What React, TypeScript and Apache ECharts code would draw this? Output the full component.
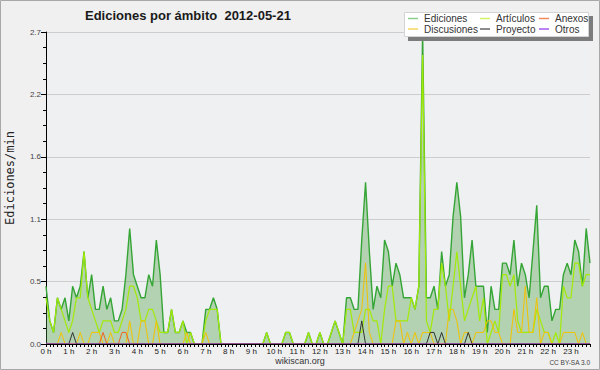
import React, { useEffect, useRef } from "react";
import * as echarts from "echarts";

const hourLabels = [
  "0 h", "1 h", "2 h", "3 h", "4 h", "5 h", "6 h", "7 h", "8 h", "9 h", "10 h", "11 h",
  "12 h", "13 h", "14 h", "15 h", "16 h", "17 h", "18 h", "19 h", "20 h", "21 h", "22 h", "23 h",
];

// one value per 10 minutes, two hours per row
const ediciones = [
  0.5, 0.2, 0.1, 0.4, 0.3, 0.4, 0.2, 0.5, 0.4, 0.5, 0.8, 0.4,
  0.6, 0.3, 0.3, 0.5, 0.3, 0.4, 0.2, 0.2, 0.3, 0.6, 1.0, 0.6,
  0.5, 0.4, 0.4, 0.6, 0.5, 0.9, 0.6, 0.1, 0.1, 0.3, 0.1, 0.1,
  0.2, 0.1, 0.1, 0, 0, 0, 0.3, 0.3, 0.4, 0.3, 0, 0,
  0, 0, 0, 0, 0, 0, 0, 0, 0, 0, 0.1, 0,
  0, 0, 0, 0.1, 0.1, 0, 0, 0, 0, 0.1, 0, 0,
  0.1, 0, 0, 0.1, 0.2, 0.1, 0, 0.4, 0.4, 0.3, 0.3, 0.9,
  1.4, 0.8, 0.3, 0.5, 0.4, 0.9, 0.8, 0.5, 0.7, 0.6, 0.4, 0.4,
  0.4, 0.3, 0.5, 2.7, 0.4, 0.4, 0.5, 0.3, 0.8, 0.5, 0.6, 1.1,
  1.4, 1.1, 0.4, 0.6, 0.9, 0.5, 0.5, 0.5, 0.1, 0.5, 0.3, 0.3,
  0.7, 0.7, 0.6, 0.9, 0.5, 0.7, 0.6, 0.4, 0.8, 1.2, 0.4, 0.5,
  0.5, 0.2, 0.3, 0.3, 0.6, 0.7, 0.6, 0.9, 0.8, 0.5, 1.0, 0.7,
];

const articulos = [
  0.4, 0.2, 0.1, 0.4, 0.3, 0.2, 0.1, 0.2, 0.4, 0.4, 0.8, 0.4,
  0.3, 0.2, 0.1, 0.2, 0.2, 0.2, 0.1, 0.1, 0.2, 0.3, 0.5, 0.5,
  0.4, 0.2, 0.2, 0.3, 0.3, 0.2, 0.1, 0.1, 0.1, 0.3, 0.1, 0.1,
  0.2, 0, 0.1, 0, 0, 0, 0.2, 0.3, 0.3, 0.3, 0, 0,
  0, 0, 0, 0, 0, 0, 0, 0, 0, 0, 0.1, 0,
  0, 0, 0, 0.1, 0.1, 0, 0, 0, 0, 0.1, 0, 0,
  0.1, 0, 0, 0.1, 0.2, 0.1, 0, 0.3, 0.3, 0.1, 0.1, 0.1,
  0.3, 0.3, 0.2, 0.2, 0, 0.3, 0.5, 0.5, 0.2, 0.2, 0.2, 0.2,
  0.4, 0.3, 0.5, 2.5, 0.2, 0.1, 0.3, 0.3, 0.7, 0.5, 0.2, 0.5,
  0.8, 0.5, 0.2, 0.3, 0.4, 0.5, 0.2, 0.4, 0, 0.1, 0.2, 0.1,
  0.6, 0.6, 0.5, 0.6, 0.2, 0.1, 0.1, 0.1, 0.1, 0.3, 0.2, 0.1,
  0.1, 0, 0.1, 0, 0.5, 0.4, 0.4, 0.7, 0.7, 0.5, 0.6, 0.6,
];

const discusiones = [
  0, 0, 0, 0, 0.1, 0, 0, 0, 0, 0.1, 0, 0,
  0.1, 0.1, 0.1, 0, 0, 0.1, 0, 0, 0, 0, 0.2, 0,
  0, 0.2, 0.2, 0, 0, 0.2, 0, 0, 0, 0, 0, 0,
  0, 0.1, 0, 0, 0, 0, 0.1, 0, 0, 0, 0, 0,
  0, 0, 0, 0, 0, 0, 0, 0, 0, 0, 0, 0,
  0, 0, 0, 0, 0, 0, 0, 0, 0, 0, 0, 0,
  0, 0, 0, 0, 0, 0, 0, 0, 0, 0.1, 0.2, 0.3,
  0.7, 0.1, 0, 0, 0, 0, 0, 0, 0.2, 0.2, 0, 0.1,
  0, 0.1, 0, 0.1, 0.1, 0.1, 0, 0, 0, 0, 0.3, 0.3,
  0.2, 0, 0.1, 0.1, 0, 0.1, 0.1, 0.1, 0.2, 0.2, 0.1, 0.1,
  0, 0, 0, 0.3, 0.1, 0.1, 0.5, 0.1, 0.1, 0.4, 0, 0.1,
  0.1, 0, 0, 0, 0.1, 0.1, 0.1, 0.1, 0, 0.1, 0, 0,
];

const anexos = [
  0, 0, 0, 0, 0, 0, 0, 0, 0, 0, 0, 0,
  0, 0, 0, 0.1, 0, 0, 0, 0, 0.1, 0.1, 0, 0,
  0, 0, 0, 0, 0, 0, 0, 0, 0, 0, 0, 0,
  0, 0, 0, 0, 0, 0, 0, 0, 0, 0, 0, 0,
  0, 0, 0, 0, 0, 0, 0, 0, 0, 0, 0, 0,
  0, 0, 0, 0, 0, 0, 0, 0, 0, 0, 0, 0,
  0, 0, 0, 0, 0, 0, 0, 0, 0, 0, 0, 0,
  0, 0, 0, 0, 0, 0, 0, 0, 0, 0, 0, 0,
  0, 0, 0, 0, 0, 0, 0, 0, 0, 0, 0, 0,
  0, 0, 0, 0, 0, 0, 0, 0, 0, 0, 0, 0,
  0, 0, 0, 0, 0, 0, 0, 0, 0, 0, 0, 0,
  0, 0, 0, 0, 0, 0, 0, 0, 0, 0, 0, 0,
];

const proyecto = [
  0, 0, 0, 0, 0, 0, 0, 0.1, 0, 0, 0, 0,
  0, 0, 0, 0, 0, 0, 0, 0, 0, 0, 0, 0,
  0, 0, 0, 0, 0, 0, 0, 0, 0, 0, 0, 0,
  0, 0, 0, 0, 0, 0, 0, 0, 0, 0, 0, 0,
  0, 0, 0, 0, 0, 0, 0, 0, 0, 0, 0, 0,
  0, 0, 0, 0, 0, 0, 0, 0, 0, 0, 0, 0,
  0, 0, 0, 0, 0, 0, 0, 0, 0, 0, 0, 0.2,
  0, 0, 0, 0, 0, 0, 0, 0, 0, 0, 0, 0,
  0, 0, 0, 0, 0, 0.1, 0.1, 0, 0.1, 0, 0, 0,
  0, 0, 0, 0.1, 0, 0, 0, 0, 0, 0, 0, 0,
  0, 0, 0, 0, 0, 0, 0, 0, 0, 0, 0, 0,
  0, 0, 0, 0, 0, 0, 0, 0, 0, 0, 0, 0,
];

const otros = [
  0, 0, 0, 0, 0, 0, 0, 0, 0, 0, 0, 0,
  0, 0, 0, 0, 0, 0, 0, 0, 0, 0, 0, 0,
  0, 0, 0, 0, 0, 0, 0, 0, 0, 0, 0, 0,
  0, 0, 0, 0, 0, 0, 0, 0, 0, 0, 0, 0,
  0, 0, 0, 0, 0, 0, 0, 0, 0, 0, 0, 0,
  0, 0, 0, 0, 0, 0, 0, 0, 0, 0, 0, 0,
  0, 0, 0, 0, 0, 0, 0, 0, 0, 0, 0, 0,
  0, 0, 0, 0, 0, 0, 0, 0, 0, 0, 0, 0,
  0, 0, 0, 0, 0, 0, 0, 0, 0, 0, 0, 0,
  0, 0, 0, 0, 0, 0, 0, 0, 0, 0, 0, 0,
  0, 0, 0, 0, 0, 0, 0, 0, 0, 0, 0, 0,
  0, 0, 0, 0, 0, 0, 0, 0, 0, 0, 0, 0,
];

const FONT = "'Liberation Sans', Arial, sans-serif";

export default function App() {
  const ref = useRef<HTMLDivElement>(null);

  useEffect(() => {
    const chart = echarts.init(ref.current as HTMLDivElement, null, { renderer: "svg" });

    const categories: string[] = [];
    hourLabels.forEach((h) => {
      for (let m = 0; m < 6; m++) categories.push(h + " " + m + "0");
    });

    const colLeft = [408, 480, 539];
    const rowTop = [13.5, 24];
    const legendDefs = [
      { name: "Ediciones", color: "#8ccf8c", c: 0, r: 0 },
      { name: "Artículos", color: "#d2f26a", c: 1, r: 0 },
      { name: "Anexos", color: "#f08a5c", c: 2, r: 0 },
      { name: "Discusiones", color: "#f5d55c", c: 0, r: 1 },
      { name: "Proyecto", color: "#666666", c: 1, r: 1 },
      { name: "Otros", color: "#a458f0", c: 2, r: 1 },
    ];
    const legends = legendDefs.map((d) => ({
      data: [{ name: d.name, itemStyle: { color: d.color } }],
      left: colLeft[d.c],
      top: rowTop[d.r],
      orient: "horizontal",
      padding: 0,
      itemWidth: 10,
      itemHeight: 1.5,
      icon: "rect",
      itemGap: 0,
      selectedMode: false,
      z: 110,
      textStyle: { fontFamily: FONT, fontSize: 10, color: "#333", padding: [0, 0, 0, 1] },
    }));

    const line = (name: string, data: number[], color: string, width: number) => ({
      type: "line",
      name,
      data,
      symbol: "none",
      showSymbol: false,
      lineStyle: { color, width },
      itemStyle: { color },
    });

    chart.setOption({
      animation: false,
      backgroundColor: "#f0f0f0",
      title: {
        text: "Ediciones por ámbito  2012-05-21",
        left: 85,
        top: 9,
        padding: 0,
        textStyle: { fontFamily: FONT, fontSize: 13, fontWeight: "bold", color: "#1a1a1a" },
      },
      legend: legends,
      grid: {
        left: 46,
        right: 10,
        top: 32,
        bottom: 26,
        show: true,
        backgroundColor: "#eef0f2",
        borderWidth: 0,
      },
      xAxis: {
        type: "category",
        data: categories,
        boundaryGap: false,
        z: 10,
        axisLine: { show: true, lineStyle: { color: "#000", width: 1 } },
        axisTick: { show: true, interval: 0, length: 3, lineStyle: { color: "#000", width: 1 } },
        axisLabel: {
          interval: 5,
          formatter: (_v: string, i: number) => hourLabels[Math.floor(i / 6)],
          fontFamily: FONT,
          fontSize: 8,
          color: "#222",
          margin: 3,
        },
        splitLine: { show: false },
      },
      yAxis: {
        type: "value",
        min: 0,
        max: 2.7,
        interval: 0.54,
        axisLine: { show: true, lineStyle: { color: "#000", width: 1 } },
        axisTick: { show: true, length: 5, lineStyle: { color: "#000" } },
        minorTick: { show: true, splitNumber: 4, length: 3, lineStyle: { color: "#000" } },
        splitLine: { show: true, lineStyle: { color: "#cdcdcd", width: 1 } },
        axisLabel: {
          formatter: (v: number) => v.toFixed(1),
          fontFamily: FONT,
          fontSize: 8,
          color: "#444",
          margin: 5,
        },
      },
      series: [
        {
          ...line("Ediciones", ediciones, "#35a535", 1.4),
          areaStyle: { color: "rgba(66,156,58,0.5)", origin: "start" },
        },
        line("Artículos", articulos, "#a2ea08", 1.2),
        line("Discusiones", discusiones, "#f2c200", 1),
        line("Anexos", anexos, "#ec6424", 1),
        line("Proyecto", proyecto, "#333333", 1),
        line("Otros", otros, "#9a3cf0", 1),
      ],
      graphic: [
        {
          type: "rect",
          z: 100,
          shape: { x: 0.5, y: 0.5, width: 599, height: 369 },
          style: { fill: "none", stroke: "#a8a8a8", lineWidth: 1 },
        },
        {
          type: "rect",
          z: 100,
          shape: { x: 408, y: 16, width: 185, height: 25 },
          style: { fill: "#7c7c7c" },
        },
        {
          type: "rect",
          z: 101,
          shape: { x: 404.5, y: 12.5, width: 184, height: 24 },
          style: { fill: "#ffffff", stroke: "#d4d4d4", lineWidth: 1 },
        },
        {
          type: "text",
          z: 100,
          x: 10,
          y: 178,
          rotation: Math.PI / 2,
          style: {
            text: "Ediciones/min",
            fontFamily: "'DejaVu Sans Mono', monospace",
            fontSize: 12,
            fill: "#222",
            textAlign: "center",
            textVerticalAlign: "middle",
            align: "center",
            verticalAlign: "middle",
          },
        },
        {
          type: "text",
          z: 100,
          x: 300,
          y: 361,
          style: {
            text: "wikiscan.org",
            fontFamily: FONT,
            fontSize: 9,
            fill: "#333",
            textAlign: "center",
            textVerticalAlign: "middle",
            align: "center",
            verticalAlign: "middle",
          },
        },
        {
          type: "text",
          z: 100,
          x: 590,
          y: 362,
          style: {
            text: "CC BY-SA 3.0",
            fontFamily: FONT,
            fontSize: 6.5,
            fill: "#444",
            textAlign: "right",
            textVerticalAlign: "middle",
            align: "right",
            verticalAlign: "middle",
          },
        },
      ],
    });

    return () => {
      chart.dispose();
    };
  }, []);

  return (
    <div
      ref={ref}
      style={{ position: "fixed", left: 0, top: 0, width: 600, height: 370 }}
    />
  );
}
